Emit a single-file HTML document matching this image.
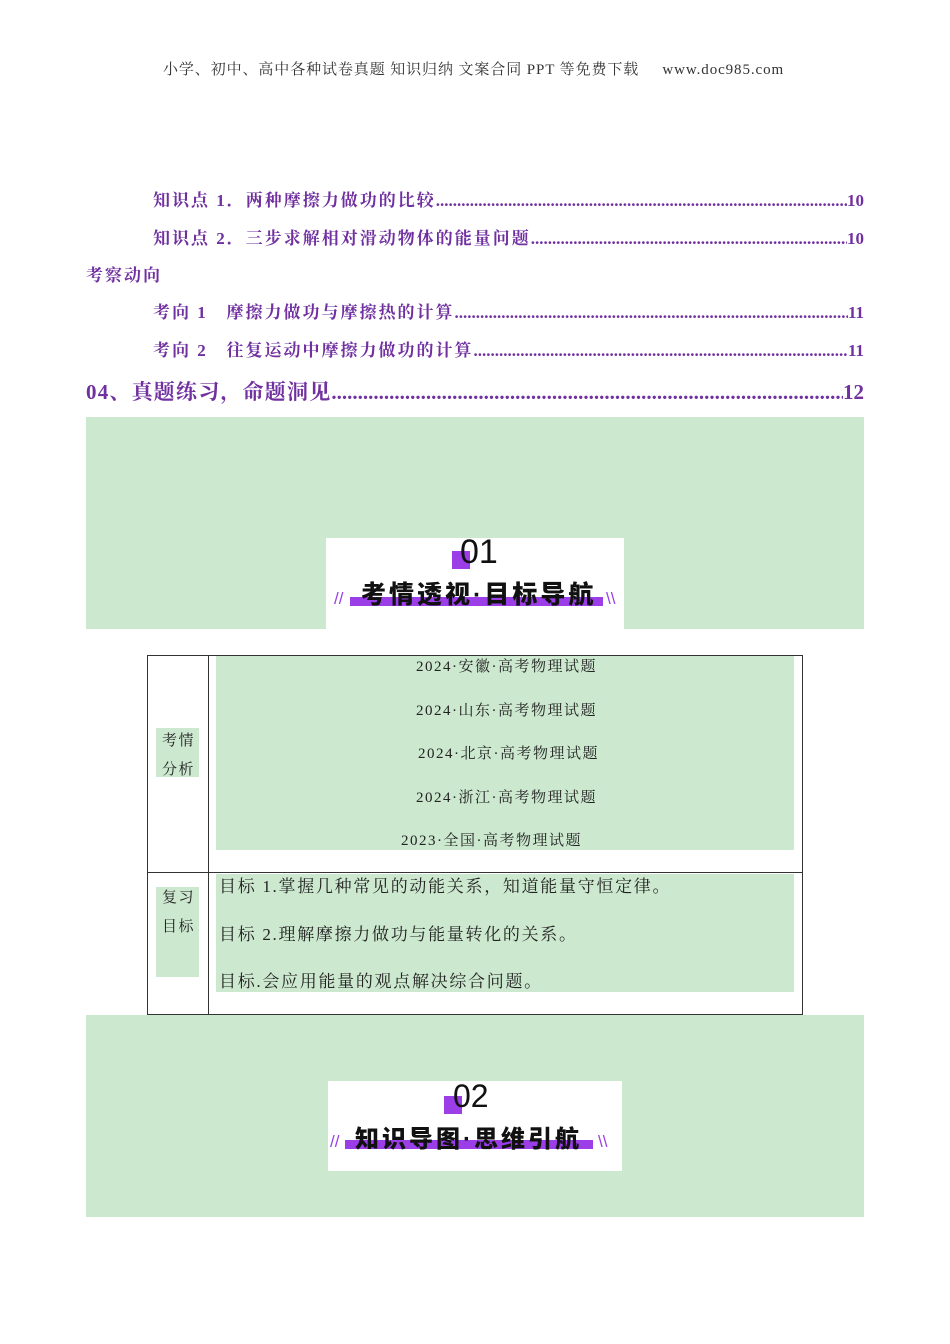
<!DOCTYPE html>
<html><head><meta charset="utf-8"><style>
body{margin:0;background:#fff;width:950px;height:1344px;position:relative;overflow:hidden;font-family:"Liberation Serif","Noto Serif CJK SC",serif}
.a{position:absolute;white-space:nowrap}
.toc{position:absolute;display:flex;color:#7030a0;font-weight:bold;font-size:17px;line-height:22px;overflow:hidden}
.toc span:first-child{letter-spacing:2px}
.toc .d{flex:1;overflow:hidden;white-space:nowrap;letter-spacing:0}
.toc .d::after{content:"........................................................................................................................................................................................................................................"}
.g{position:absolute;background:#cce8cf}
.w{position:absolute;background:#fff}
.ttl{position:absolute;font-family:"Liberation Sans","Noto Sans CJK SC",sans-serif;font-weight:900;color:#111}
.cell{font-size:15px;color:#222;letter-spacing:1.5px}
</style></head><body>
<div class="a" style="left:163px;top:58px;font-size:15px;color:#333;letter-spacing:0.9px">小学、初中、高中各种试卷真题 知识归纳 文案合同 PPT 等免费下载&nbsp;&nbsp;&nbsp;&nbsp;&nbsp;www.doc985.com</div>

<div class="toc" style="left:153px;top:190px;width:711px"><span>知识点 1．两种摩擦力做功的比较</span><span class="d"></span><span>10</span></div>
<div class="toc" style="left:153px;top:228px;width:711px"><span>知识点 2．三步求解相对滑动物体的能量问题</span><span class="d"></span><span>10</span></div>
<div class="toc" style="left:86px;top:265px;width:200px"><span>考察动向</span></div>
<div class="toc" style="left:153px;top:302px;width:711px"><span>考向 1&nbsp;&nbsp;&nbsp;摩擦力做功与摩擦热的计算</span><span class="d"></span><span>11</span></div>
<div class="toc" style="left:153px;top:340px;width:711px"><span>考向 2&nbsp;&nbsp;&nbsp;往复运动中摩擦力做功的计算</span><span class="d"></span><span>11</span></div>
<div class="toc" style="left:86px;top:378px;width:778px;font-size:21px;line-height:28px"><span style="letter-spacing:1.2px">04、真题练习，命题洞见</span><span class="d"></span><span>12</span></div>

<div class="g" style="left:86px;top:417px;width:778px;height:212px"></div>
<div class="w" style="left:326px;top:538px;width:298px;height:91px"></div>
<div class="a" style="left:452px;top:551px;width:18px;height:18px;background:#9b3ee8"></div>
<div class="ttl" style="left:460px;top:533px;font-size:34px;font-weight:400">01</div>
<div class="a" style="left:350px;top:597px;width:253px;height:9px;background:#9b3ee8"></div>
<div class="ttl" style="left:361px;top:575px;font-size:25px;letter-spacing:3px">考情透视·目标导航</div>
<div class="a" style="left:334px;top:589px;color:#9b3ee8;font-size:17px;font-family:'Liberation Sans',sans-serif">//</div>
<div class="a" style="left:606px;top:589px;color:#9b3ee8;font-size:17px;font-family:'Liberation Sans',sans-serif">\\</div>

<div class="a" style="left:147px;top:655px;width:654px;height:358px;border:1px solid #333"></div>
<div class="a" style="left:208px;top:655px;width:1px;height:359px;background:#333"></div>
<div class="a" style="left:147px;top:872px;width:655px;height:1px;background:#333"></div>
<div class="g" style="left:216px;top:656px;width:578px;height:194px"></div>
<div class="g" style="left:216px;top:874px;width:578px;height:118px"></div>
<div class="g" style="left:156px;top:728px;width:43px;height:49px"></div>
<div class="g" style="left:156px;top:887px;width:43px;height:90px"></div>
<div class="a cell" style="left:162px;top:727px;line-height:29px;white-space:normal;width:40px">考情<br>分析</div>
<div class="a cell" style="left:162px;top:884px;line-height:29px;white-space:normal;width:40px">复习<br>目标</div>
<div class="a cell" style="left:416px;top:655px">2024·安徽·高考物理试题</div>
<div class="a cell" style="left:416px;top:699px">2024·山东·高考物理试题</div>
<div class="a cell" style="left:418px;top:742px">2024·北京·高考物理试题</div>
<div class="a cell" style="left:416px;top:786px">2024·浙江·高考物理试题</div>
<div class="a cell" style="left:401px;top:829px">2023·全国·高考物理试题</div>
<div class="a cell" style="left:219px;top:872px;font-size:17px;letter-spacing:1.7px">目标 1.掌握几种常见的动能关系，知道能量守恒定律。</div>
<div class="a cell" style="left:219px;top:920px;font-size:17px;letter-spacing:1.7px">目标 2.理解摩擦力做功与能量转化的关系。</div>
<div class="a cell" style="left:219px;top:967px;font-size:17px;letter-spacing:1.7px">目标.会应用能量的观点解决综合问题。</div>

<div class="g" style="left:86px;top:1015px;width:778px;height:202px"></div>
<div class="w" style="left:328px;top:1081px;width:294px;height:90px"></div>
<div class="a" style="left:444px;top:1096px;width:18px;height:18px;background:#9b3ee8"></div>
<div class="ttl" style="left:453px;top:1078px;font-size:32px;font-weight:400">02</div>
<div class="a" style="left:345px;top:1140px;width:248px;height:9px;background:#9b3ee8"></div>
<div class="ttl" style="left:355px;top:1119px;font-size:24px;letter-spacing:3px">知识导图·思维引航</div>
<div class="a" style="left:330px;top:1132px;color:#9b3ee8;font-size:17px;font-family:'Liberation Sans',sans-serif">//</div>
<div class="a" style="left:598px;top:1132px;color:#9b3ee8;font-size:17px;font-family:'Liberation Sans',sans-serif">\\</div>
</body></html>
